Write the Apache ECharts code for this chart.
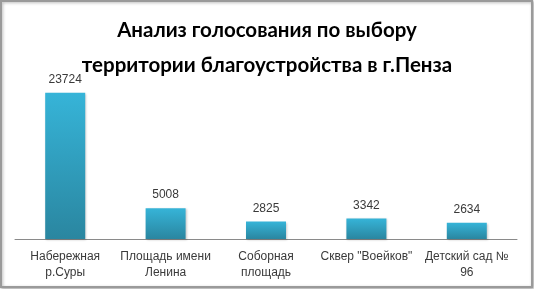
<!DOCTYPE html>
<html><head><meta charset="utf-8">
<script src="https://cdn.jsdelivr.net/npm/echarts@6/dist/echarts.min.js"></script>
<style>html,body{margin:0;padding:0;background:#fff}#c{width:534px;height:289px}</style>
</head><body><div id="c"></div>
<script>
var titleText = 'Анализ голосования по выбору\nтерритории благоустройства в г.Пенза';
var categories = ['Набережная\nр.Суры', 'Площадь имени\nЛенина', 'Соборная\nплощадь', 'Сквер "Воейков"', 'Детский сад №\n96'];
var votes = [23724, 5008, 2825, 3342, 2634];

var chart = echarts.init(document.getElementById('c'));
chart.setOption({
  animation: false,
  backgroundColor: '#fff',
  graphic: [{
    type: 'rect', left: 0, top: 0, z: -10,
    shape: {width: 531, height: 286},
    style: {fill: '#fff', stroke: '#9a9a9a', lineWidth: 2, shadowBlur: 3, shadowColor: 'rgba(0,0,0,0.3)', shadowOffsetX: 1, shadowOffsetY: 1}
  }],
  title: {
    text: titleText, left: 'center', top: 8,
    textStyle: {fontFamily: 'Lato', fontWeight: 'bold', fontSize: 20.5, color: '#000', lineHeight: 35}
  },
  grid: {left: 15, right: 17, top: 85, bottom: 50},
  xAxis: {
    type: 'category', data: categories,
    axisLine: {lineStyle: {color: '#8a8a8a', width: 1}},
    axisTick: {show: false},
    axisLabel: {color: '#3a3a3a', fontFamily: 'Liberation Sans', fontSize: 12, lineHeight: 16, margin: 10, interval: 0}
  },
  yAxis: {
    type: 'value', min: 0, max: 25000, show: false,
    splitLine: {show: false}
  },
  series: [{
    type: 'bar', data: votes, barWidth: 40,
    itemStyle: {
      color: new echarts.graphic.LinearGradient(0, 0, 0, 1, [
        {offset: 0, color: '#36b4d8'}, {offset: 1, color: '#2a86a0'}
      ]),
      shadowBlur: 2, shadowColor: 'rgba(0,0,0,0.2)', shadowOffsetX: 1, shadowOffsetY: 1
    },
    label: {show: true, position: 'top', distance: 7, color: '#3a3a3a', fontFamily: 'Liberation Sans', fontSize: 12}
  }]
});
</script></body></html>
